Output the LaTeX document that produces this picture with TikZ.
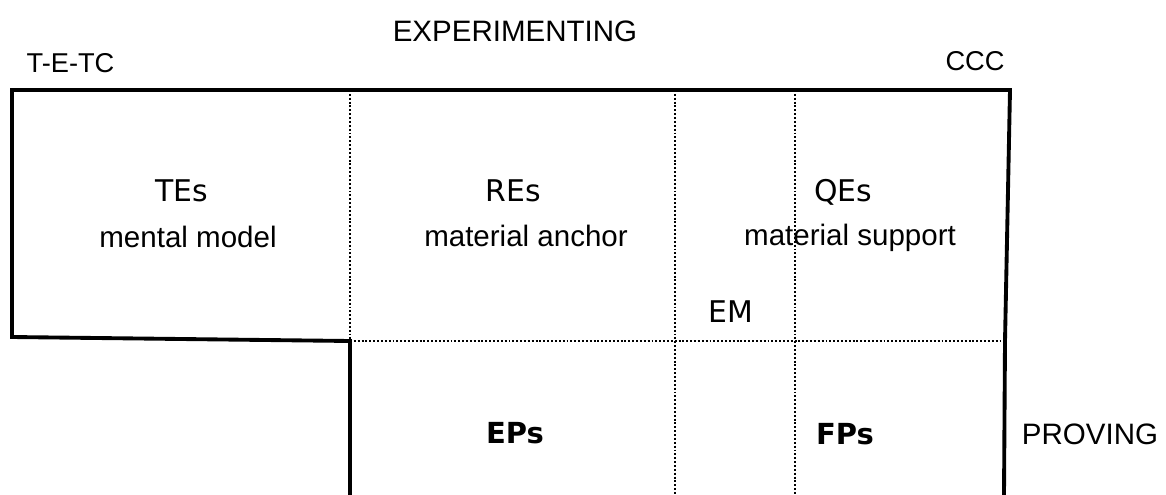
\documentclass[tikz,border=0pt]{standalone}
\usepackage{fontspec}
\setmainfont{Liberation Sans}
\newfontfamily\headfont{DejaVu Sans}
\usepackage{tikz}

\begin{document}
\begin{tikzpicture}[
		frame/.style={line width=2.2pt,line join=miter},
		divider/.style={line width=1.1pt,dash pattern=on 1.1pt off 1.1pt},
		label/.style={anchor=base,inner sep=0pt,font=\fontsize{16.8}{20}\selectfont},
		corner/.style={anchor=base,inner sep=0pt,font=\fontsize{15.5}{18}\selectfont},
		head/.style={anchor=base,inner sep=0pt,font=\headfont\fontsize{17}{20}\selectfont},
		boldhead/.style={head,font=\headfont\bfseries\fontsize{16.5}{20}\selectfont}]
		\useasboundingbox (0,0) rectangle (23.32,-9.9);
		% corners of the frame
		\coordinate (tl) at (0.24,-1.8);
		\coordinate (tr) at (20.2,-1.8);
		\coordinate (mr) at (20.1,-6.82);
		\coordinate (br) at (20.08,-9.9);
		\coordinate (ls) at (0.24,-6.74);
		\coordinate (sc) at (7.0,-6.82);
		\coordinate (sb) at (7.0,-9.9);
		% ends of the dotted lines
		\coordinate (ta) at (7.0,-1.8);
		\coordinate (tb) at (13.5,-1.8);
		\coordinate (tc) at (15.9,-1.8);
		\coordinate (bb) at (13.5,-9.9);
		\coordinate (bc) at (15.9,-9.9);
		\coordinate (mb) at (13.5,-6.82);
		\coordinate (mc) at (15.9,-6.82);

		\draw[divider] (ta) -- (sc);
		\draw[divider] (tb) -- (bb);
		\draw[divider] (tc) -- (bc);
		\draw[divider] (sc) -- (mb) -- (mc) -- (mr);
		\draw[frame] (sb) -- (sc) -- (ls) -- (tl) -- (tr) -- (mr) -- (br);

		\node[label] (exp) at (10.30,-0.84) {EXPERIMENTING};
		\node[corner] (tetc) at (1.41,-1.44) {T-E-TC};
		\node[corner] (ccc) at (19.5,-1.42) {CCC};

		\node[head] (tes) at (3.64,-4.02) {TEs};
		\node[label] (mental) at (3.76,-4.94) {mental model};
		\node[head] (res) at (10.26,-4.02) {REs};
		\node[label] (anchor) at (10.52,-4.92) {material anchor};
		\node[head] (qes) at (16.86,-4.02) {QEs};
		\node[label] (support) at (17.0,-4.90) {material support};
		\node[head] (em) at (14.61,-6.44) {EM};

		\node[boldhead] (eps) at (10.3,-8.86) {EPs};
		\node[boldhead] (fps) at (16.9,-8.88) {FPs};
		\node[label] (prov) at (21.8,-8.88) {PROVING};
	\end{tikzpicture}
\end{document}
